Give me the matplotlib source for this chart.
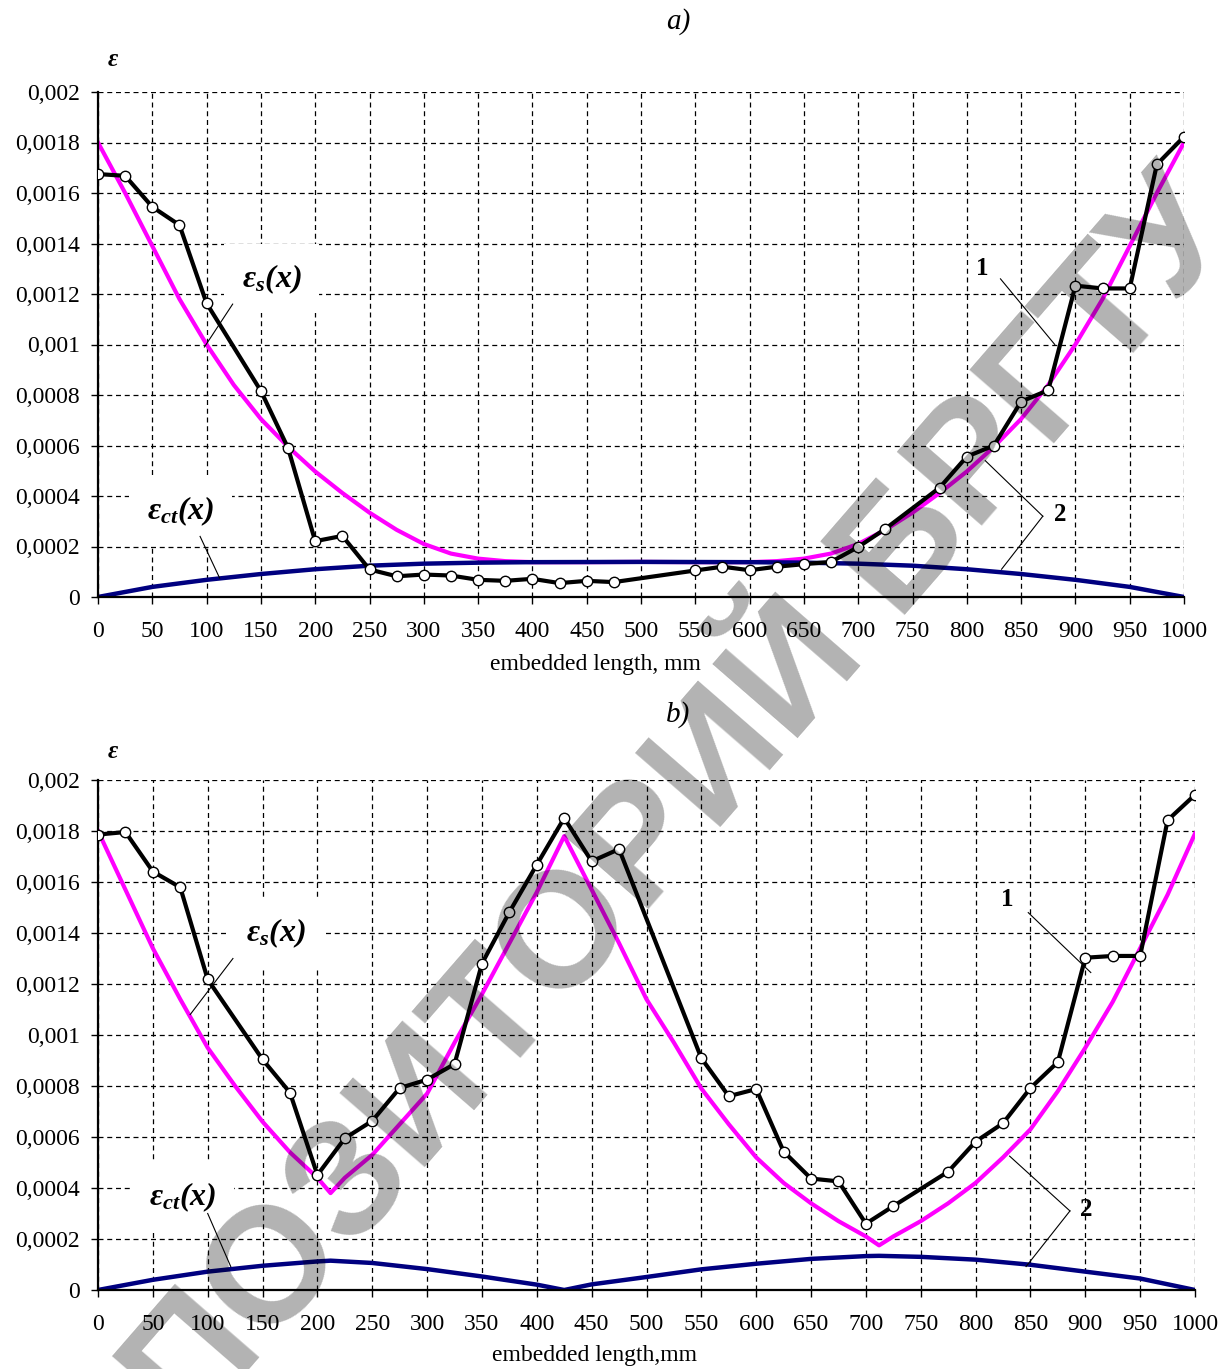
import matplotlib
matplotlib.use("Agg")
import matplotlib.pyplot as plt

plt.rcParams.update({
    "font.family": "Liberation Serif",
    "mathtext.fontset": "custom",
    "mathtext.rm": "Liberation Serif",
    "mathtext.it": "Liberation Serif:italic",
    "mathtext.bf": "Liberation Serif:bold",
    "mathtext.bfit": "Liberation Serif:italic:bold",
})

# ---- data (strain vs embedded length, mm) ----
# measured points, same stations in both tests
x_meas = [0, 25, 50, 75, 100, 150, 175, 200, 225, 250, 275, 300, 325, 350, 375, 400, 425,
          450, 475, 550, 575, 600, 625, 650, 675, 700, 725, 775, 800, 825, 850, 875, 900,
          925, 950, 975, 1000]
eps_meas_a = [0.001675, 0.001668, 0.001545, 0.001473, 0.001163, 0.000816, 0.00059, 0.000221,
              0.000242, 0.000109, 0.000082, 0.000089, 0.000085, 0.000068, 0.000064, 0.000072,
              0.000055, 0.000064, 0.000059, 0.000105, 0.00012, 0.000106, 0.00012, 0.00013,
              0.000139, 0.000198, 0.00027, 0.000433, 0.000556, 0.0006, 0.000774, 0.000819,
              0.001233, 0.001222, 0.001222, 0.001713, 0.001823]
eps_meas_b = [0.001786, 0.001796, 0.001641, 0.001579, 0.001218, 0.000904, 0.000774, 0.000451,
              0.000595, 0.000663, 0.000792, 0.000825, 0.000886, 0.00128, 0.001482, 0.001668,
              0.001851, 0.001681, 0.001729, 0.000909, 0.00076, 0.000788, 0.000543, 0.000437,
              0.000426, 0.00026, 0.000329, 0.000464, 0.000582, 0.000654, 0.000792, 0.000894,
              0.001303, 0.00131, 0.00131, 0.001842, 0.001942]

# eps_s(x) calculated (magenta)
x_s_a = [0, 25, 50, 75, 100, 125, 150, 175, 200, 225, 250, 275, 300, 325, 350, 375, 400,
         450, 500, 550, 600, 625, 650, 675, 700, 725, 750, 775, 800, 825, 850, 875, 900,
         925, 950, 975, 1000]
eps_s_a = [0.0018, 0.0016, 0.00139, 0.00118, 0.001, 0.00084, 0.000705, 0.000595, 0.000497,
           0.000412, 0.000334, 0.000266, 0.00021, 0.000172, 0.000152, 0.000142, 0.000138,
           0.000138, 0.000139, 0.000138, 0.000138, 0.000142, 0.000152, 0.000172, 0.00021,
           0.000266, 0.000334, 0.000412, 0.000497, 0.000595, 0.000705, 0.00084, 0.001,
           0.00118, 0.00139, 0.0016, 0.0018]
x_s_b = [0, 25, 50, 75, 100, 125, 150, 175, 200, 212, 225, 250, 275, 300, 325, 350, 375,
         400, 425, 450, 475, 500, 525, 550, 575, 600, 625, 650, 675, 700, 712, 725, 750,
         775, 800, 825, 850, 875, 900, 925, 950, 975, 1000]
eps_s_b = [0.0018, 0.00157, 0.00134, 0.00114, 0.00095, 0.0008, 0.00066, 0.00054, 0.00044,
           0.00038, 0.00044, 0.00053, 0.00065, 0.00077, 0.00097, 0.00116, 0.00136, 0.00156,
           0.00178, 0.00157, 0.00136, 0.00114, 0.00097, 0.00079, 0.00065, 0.00052, 0.00042,
           0.00034, 0.00027, 0.00021, 0.000175, 0.00021, 0.00027, 0.00034, 0.00042, 0.00052,
           0.00063, 0.00078, 0.00095, 0.00113, 0.00134, 0.00155, 0.00179]

# eps_ct(x) calculated (navy)
x_ct_a = [0, 25, 50, 100, 150, 200, 250, 300, 350, 400, 500, 600, 650, 700, 750, 800, 850,
          900, 950, 975, 1000]
eps_ct_a = [0, 0.00002, 0.00004, 0.000068, 0.000091, 0.00011, 0.000124, 0.000132, 0.000136,
            0.000138, 0.000139, 0.000138, 0.000136, 0.000132, 0.000124, 0.00011, 0.000091,
            0.000068, 0.00004, 0.00002, 0]
x_ct_b = [0, 50, 100, 150, 200, 212, 250, 300, 350, 400, 425, 450, 500, 550, 600, 650, 700,
          712, 750, 800, 850, 900, 950, 1000]
eps_ct_b = [0, 0.00004, 0.000072, 0.000095, 0.000112, 0.000115, 0.000106, 0.000082, 0.000053,
            0.000021, 0, 0.000022, 0.000051, 0.000081, 0.000103, 0.000122, 0.000133, 0.000134,
            0.00013, 0.000119, 0.000099, 0.000072, 0.000045, 0]

x_ticks = list(range(0, 1001, 50))
y_ticks = [0, 0.0002, 0.0004, 0.0006, 0.0008, 0.001, 0.0012, 0.0014, 0.0016, 0.0018, 0.002]
y_ticklabels = ["0", "0,0002", "0,0004", "0,0006", "0,0008", "0,001", "0,0012", "0,0014",
                "0,0016", "0,0018", "0,002"]

# annotation layout (data coords): label position and leader lines
notes_a = {
    "es": (160, 0.00126), "es_lead": [((124, 0.00116), (98, 0.00099))],
    "ect": (76, 0.00034), "ect_lead": [((94, 0.00024), (112, 0.000075))],
    "one": (814, 0.0013), "one_lead": [((831, 0.00126), (881, 0.001))],
    "two": (880, 0.000325), "two_lead": [((817, 0.00054), (870, 0.00032)),
                                        ((870, 0.00032), (832, 0.00011))],
}
notes_b = {
    "es": (162, 0.0014), "es_lead": [((123, 0.0013), (84, 0.00108))],
    "ect": (77, 0.000363), "ect_lead": [((100, 0.0003), (121, 0.000092))],
    "one": (829, 0.00153), "one_lead": [((848, 0.00148), (905, 0.001245))],
    "two": (895, 0.000315), "two_lead": [((831, 0.000525), (886, 0.00031)),
                                        ((886, 0.00031), (846, 0.000092))],
}

W, H = 1223, 1369
fig = plt.figure(figsize=(W / 100, H / 100), dpi=100)


def box(l, t, r, b):
    return [l / W, 1 - b / H, (r - l) / W, (b - t) / H]


def panel(ax, eps_meas, x_s, eps_s, x_ct, eps_ct, notes):
    ax.set_axisbelow(True)
    ax.grid(True, color="black", linestyle=(0, (4, 3)), linewidth=0.9)
    ax.plot(x_s, eps_s, color="#ff00ff", lw=3.0, zorder=2)
    ax.plot(x_ct, eps_ct, color="#000080", lw=3.2, zorder=2.2)
    ax.plot(x_meas, eps_meas, color="black", lw=3.0, marker="o", ms=7.5,
            mfc="white", mec="black", mew=1.0, zorder=3)
    ax.set_xlim(0, 1000)
    ax.set_ylim(0, 0.002)
    ax.set_xticks(x_ticks)
    ax.set_yticks(y_ticks)
    ax.set_yticklabels(y_ticklabels)
    ax.tick_params(axis="both", direction="out", length=5, width=1, labelsize=17)
    ax.tick_params(axis="x", pad=12)
    ax.tick_params(axis="y", pad=8)
    for s in ("top", "right"):
        ax.spines[s].set_visible(False)
    for s in ("left", "bottom"):
        ax.spines[s].set_linewidth(1.6)

    bb = dict(boxstyle="square,pad=0.55", fc="white", ec="none")
    ax.text(*notes["es"], r"$\mathbfit{\varepsilon_s(x)}$", fontsize=23,
            ha="center", va="center", bbox=bb, zorder=1.5)
    ax.text(*notes["ect"], r"$\mathbfit{\varepsilon_{ct}(x)}$", fontsize=23,
            ha="center", va="center", bbox=bb, zorder=1.5)
    ax.text(*notes["one"], "1", fontsize=18, fontweight="bold", ha="center", va="center")
    ax.text(*notes["two"], "2", fontsize=18, fontweight="bold", ha="left", va="center")
    for key in ("es_lead", "ect_lead", "one_lead", "two_lead"):
        for p0, p1 in notes[key]:
            ax.plot([p0[0], p1[0]], [p0[1], p1[1]], color="black", lw=0.8, zorder=3.5)


ax_a = fig.add_axes(box(98, 92, 1184, 597))
panel(ax_a, eps_meas_a, x_s_a, eps_s_a, x_ct_a, eps_ct_a, notes_a)
ax_b = fig.add_axes(box(98, 780, 1195, 1290))
panel(ax_b, eps_meas_b, x_s_b, eps_s_b, x_ct_b, eps_ct_b, notes_b)

fig.text(678 / W, 1 - 22 / H, "a)", fontsize=21, style="italic", ha="center", va="center")
fig.text(678 / W, 1 - 715 / H, "b)", fontsize=21, style="italic", ha="center", va="center")
fig.text(113 / W, 1 - 60 / H, "ε", fontsize=18, style="italic", weight="bold",
         ha="center", va="center")
fig.text(113 / W, 1 - 752 / H, "ε", fontsize=18, style="italic", weight="bold",
         ha="center", va="center")
fig.text(595 / W, 1 - 665 / H, "embedded length, mm", fontsize=17, ha="center", va="center")
fig.text(595 / W, 1 - 1355 / H, "embedded length,mm", fontsize=17, ha="center", va="center")

# repository watermark (runs off the page in the source scan)
fig.text(612 / W, 1 - 888 / H, "РЕПОЗИТОРИЙ БРГТУ", fontsize=118, family="Liberation Sans",
         weight="semibold", color="black", alpha=0.3, rotation=49, rotation_mode="anchor",
         ha="center", va="center", zorder=10)

fig.savefig("out.png", dpi=100)
